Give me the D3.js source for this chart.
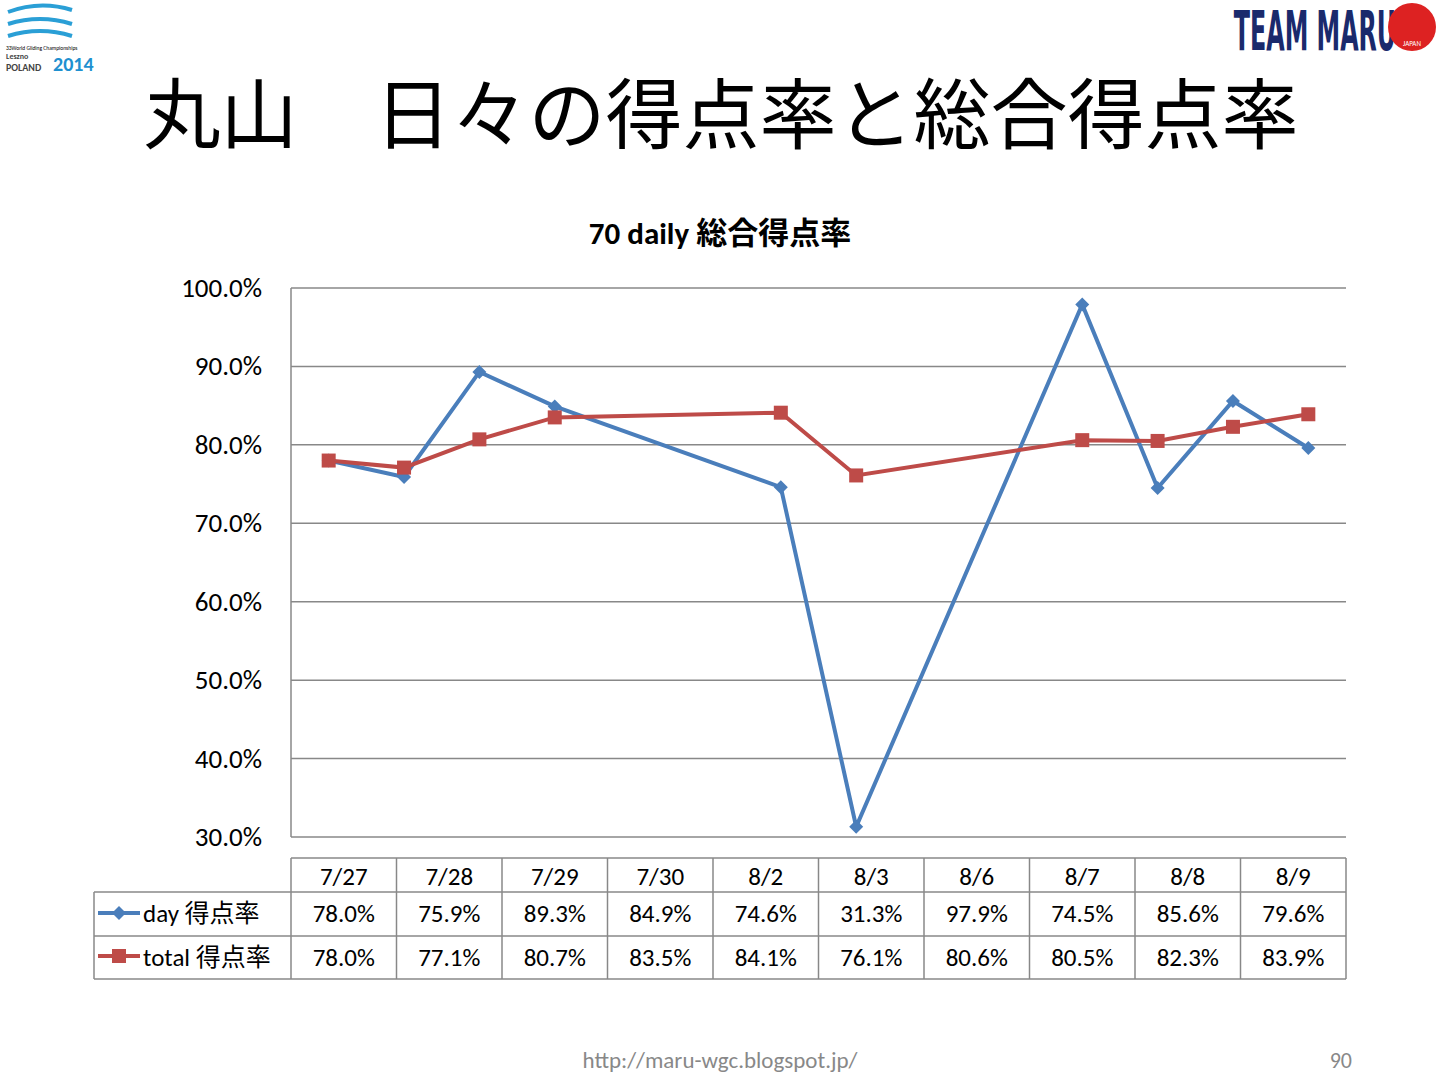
<!DOCTYPE html>
<html><head><meta charset="utf-8">
<script src="https://cdn.jsdelivr.net/npm/d3@7"></script>
<style>body{margin:0;background:#fff}</style>
</head><body>
<script>
const dates = ["2014-07-27","2014-07-28","2014-07-29","2014-07-30","2014-08-02","2014-08-03","2014-08-06","2014-08-07","2014-08-08","2014-08-09"];
const dateLabels = ["7/27","7/28","7/29","7/30","8/2","8/3","8/6","8/7","8/8","8/9"];
const dayRate = [78.0,75.9,89.3,84.9,74.6,31.3,97.9,74.5,85.6,79.6];
const totalRate = [78.0,77.1,80.7,83.5,84.1,76.1,80.6,80.5,82.3,83.9];
const yTicks = [30,40,50,60,70,80,90,100];

const font = "Calibri, Carlito, 'Noto Sans CJK JP', sans-serif";
const svg = d3.select("body").append("svg").attr("width",1440).attr("height",1080)
  .style("font-family",font);

const parse = d3.utcParse("%Y-%m-%d");
const dt = dates.map(parse);
const x = d3.scaleUtc()
  .domain([d3.utcHour.offset(dt[0],-12), d3.utcHour.offset(dt[dt.length-1],12)])
  .range([291,1346]);
const y = d3.scaleLinear().domain([30,100]).range([837,288]);
const diamond = "M0,-7L7,0L0,7L-7,0Z";

// header
svg.append("text").attr("x",721).attr("y",143).attr("text-anchor","middle")
  .attr("font-size",77).attr("font-family","'Noto Sans CJK JP'").text("丸山　日々の得点率と総合得点率");
svg.append("text").attr("x",1315).attr("y",50).attr("text-anchor","middle")
  .attr("font-size",44).attr("font-weight","bold").attr("fill","#1a2a6c")
  .attr("font-family","'Liberation Sans Narrow','DejaVu Sans Condensed',sans-serif")
  .attr("transform","translate(1315,50) scale(0.6,1.25) translate(-1315,-50)").text("TEAM MARU");
svg.append("circle").attr("cx",1412).attr("cy",27).attr("r",24).attr("fill","#d22");
svg.append("text").attr("x",1412).attr("y",46).attr("text-anchor","middle").attr("font-size",7).attr("fill","#fff").text("JAPAN");
svg.append("text").attr("x",6).attr("y",50).attr("font-size",5.5).text("33World Gliding Championships");
svg.append("text").attr("x",6).attr("y",59).attr("font-size",8).attr("font-weight","bold").attr("fill","#444").text("Leszno");
svg.append("text").attr("x",6).attr("y",71).attr("font-size",10).attr("font-weight","bold").attr("fill","#444").text("POLAND");
svg.append("text").attr("x",53).attr("y",71).attr("font-size",20).attr("font-weight","bold").attr("fill","#1e90d0").text("2014");
svg.append("path").attr("d","M8,12 Q40,0 72,10 M8,24 Q40,14 72,24 M8,36 Q40,26 72,36")
  .attr("stroke","#2a9fd6").attr("stroke-width",4).attr("fill","none");

svg.append("text").attr("x",720).attr("y",244).attr("text-anchor","middle")
  .attr("font-size",31).attr("font-weight","bold").text("70 daily 総合得点率");

// grid
svg.append("g").selectAll("line").data(yTicks).join("line")
  .attr("x1",291).attr("x2",1346).attr("y1",d=>y(d)).attr("y2",d=>y(d))
  .attr("stroke","#888").attr("stroke-width",1.5);
svg.append("line").attr("x1",291).attr("x2",291).attr("y1",288).attr("y2",837).attr("stroke","#888").attr("stroke-width",1.5);
svg.append("g").selectAll("text").data(yTicks).join("text")
  .attr("x",262).attr("y",d=>y(d)+9).attr("text-anchor","end").attr("font-size",27)
  .text(d=>d.toFixed(1)+"%");

const line = d3.line().x((d,i)=>x(dt[i])).y(d=>y(d));
svg.append("path").datum(dayRate).attr("d",line).attr("fill","none").attr("stroke","#4a7ebb").attr("stroke-width",4);
svg.append("path").datum(totalRate).attr("d",line).attr("fill","none").attr("stroke","#be4b48").attr("stroke-width",4);
svg.append("g").selectAll("path").data(dayRate).join("path")
  .attr("d",diamond).attr("fill","#4a7ebb")
  .attr("transform",(d,i)=>`translate(${x(dt[i])},${y(d)})`);
svg.append("g").selectAll("rect").data(totalRate).join("rect")
  .attr("x",(d,i)=>x(dt[i])-7).attr("y",d=>y(d)-7).attr("width",14).attr("height",14).attr("fill","#be4b48");

// table
const col = d3.scaleBand().domain(d3.range(10)).range([291,1346]);
const rows = [858,892,936,979];
const tg = svg.append("g").attr("stroke","#888").attr("stroke-width",1.5);
tg.append("line").attr("x1",291).attr("x2",1346).attr("y1",rows[0]).attr("y2",rows[0]);
[1,2,3].forEach(r=>tg.append("line").attr("x1",94).attr("x2",1346).attr("y1",rows[r]).attr("y2",rows[r]));
tg.append("line").attr("x1",94).attr("x2",94).attr("y1",rows[1]).attr("y2",rows[3]);
d3.range(11).forEach(i=>tg.append("line").attr("x1",i<10?col(i):1346).attr("x2",i<10?col(i):1346).attr("y1",rows[0]).attr("y2",rows[3]));
const cx = i=>col(i)+col.bandwidth()/2;
svg.append("g").selectAll("text").data(dateLabels).join("text").attr("x",(d,i)=>cx(i)).attr("y",885)
  .attr("text-anchor","middle").attr("font-size",25).text(d=>d);
svg.append("g").selectAll("text").data(dayRate).join("text").attr("x",(d,i)=>cx(i)).attr("y",922)
  .attr("text-anchor","middle").attr("font-size",25).text(d=>d.toFixed(1)+"%");
svg.append("g").selectAll("text").data(totalRate).join("text").attr("x",(d,i)=>cx(i)).attr("y",966)
  .attr("text-anchor","middle").attr("font-size",25).text(d=>d.toFixed(1)+"%");
// legend keys
svg.append("line").attr("x1",98).attr("x2",140).attr("y1",913).attr("y2",913).attr("stroke","#4a7ebb").attr("stroke-width",4);
svg.append("path").attr("d",diamond).attr("fill","#4a7ebb").attr("transform","translate(119,913)");
svg.append("text").attr("x",143).attr("y",922).attr("font-size",25).text("day 得点率");
svg.append("line").attr("x1",98).attr("x2",140).attr("y1",956).attr("y2",956).attr("stroke","#be4b48").attr("stroke-width",4);
svg.append("rect").attr("x",112).attr("y",949).attr("width",14).attr("height",14).attr("fill","#be4b48");
svg.append("text").attr("x",143).attr("y",966).attr("font-size",25).text("total 得点率");

svg.append("text").attr("x",720).attr("y",1068).attr("text-anchor","middle").attr("font-size",23).attr("fill","#888").text("http://maru-wgc.blogspot.jp/");
svg.append("text").attr("x",1352).attr("y",1068).attr("text-anchor","end").attr("font-size",22).attr("fill","#888").text("90");
</script>
</body></html>
